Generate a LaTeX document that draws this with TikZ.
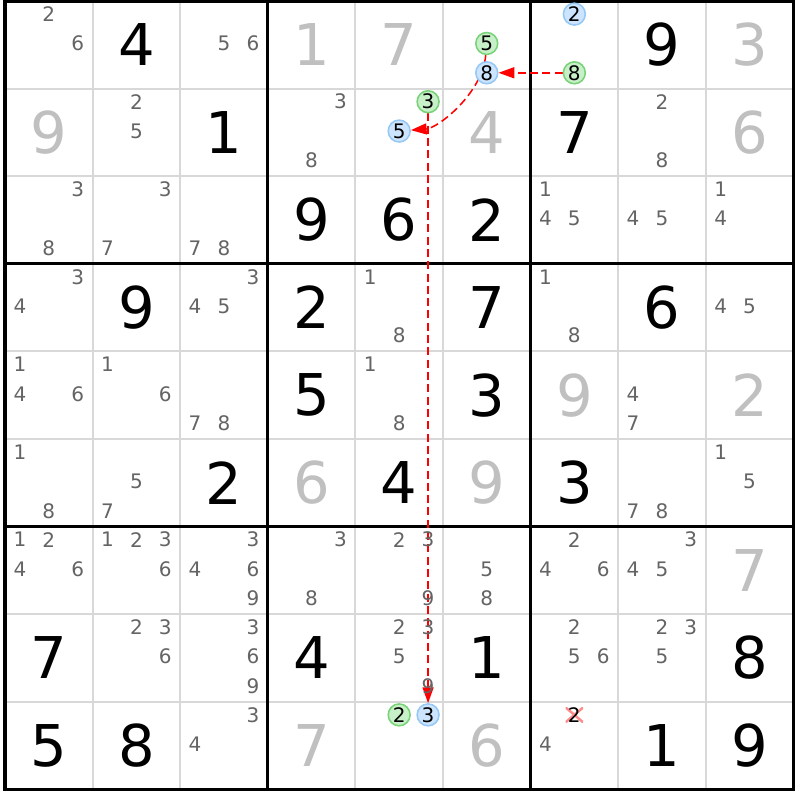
\documentclass[tikz,border=0pt]{standalone}
\usepackage{fontspec}
\setmainfont{DejaVu Sans}
\usetikzlibrary{arrows.meta}

\definecolor{solvedcol}{RGB}{192,192,192}
\definecolor{candcol}{RGB}{100,100,100}
\definecolor{thingrid}{RGB}{216,216,216}
\definecolor{onfill}{RGB}{200,240,200}
\definecolor{ondraw}{RGB}{120,210,120}
\definecolor{offfill}{RGB}{205,228,255}
\definecolor{offdraw}{RGB}{150,200,245}
\definecolor{linkred}{RGB}{255,0,0}
\definecolor{elimred}{RGB}{255,140,140}

\pgfdeclarelayer{background}
\pgfdeclarelayer{links}
\pgfsetlayers{background,links,main}

% Cell helpers: column, row, digit
\newcommand{\given}[3]{\node[given] (r#2c#1) at (#1-0.5,#2-0.5) {#3};}
\newcommand{\solved}[3]{\node[solved] (r#2c#1) at (#1-0.5,#2-0.5) {#3};}
\newcommand{\cand}[4][cand]{%
  \pgfmathsetmacro{\candx}{#2-0.83+0.33*mod(#4-1,3)}%
  \pgfmathsetmacro{\candy}{#3-0.85+0.335*int((#4-0.5)/3)}%
  \node[#1] (r#3c#2n#4) at (\candx,\candy) {#4};}
\newcommand{\cands}[3]{\foreach \dg in {#3} {\cand{#1}{#2}{\dg}}}

\begin{document}
\begin{tikzpicture}[x=1cm,y=-1cm,
    given/.style={text=black,inner sep=0pt,font=\fontsize{18.7}{20}\selectfont},
    solved/.style={given,text=solvedcol},
    cand/.style={text=candcol,inner sep=0pt,font=\fontsize{6.5}{7}\selectfont},
    candon/.style={cand,circle,text=black,fill=onfill,draw=ondraw,line width=0.5pt,minimum size=0.25cm},
    candoff/.style={cand,circle,text=black,fill=offfill,draw=offdraw,line width=0.5pt,minimum size=0.25cm},
    elim/.style={cand,text=black,minimum width=0.2cm,minimum height=0.17cm,
        path picture={\draw[elimred,line width=0.8pt]
            (path picture bounding box.north west) -- (path picture bounding box.south east)
            (path picture bounding box.south west) -- (path picture bounding box.north east);}},
    thinline/.style={thingrid,line width=0.65pt},
    boxline/.style={black,line width=1.1pt},
    link/.style={linkred,line width=0.5pt,dash pattern=on 2.6pt off 1.4pt,-{Triangle[length=1.8mm,width=1.25mm]}}
]
\useasboundingbox (-0.057,-0.011) rectangle (9.076,9.122);

% Grid
\begin{pgfonlayer}{background}
\fill[white] (-0.057,-0.011) rectangle (9.076,9.122);
\foreach \i in {1,2,4,5,7,8} {
    \draw[thinline] (\i,0) -- (\i,9);
    \draw[thinline] (0,\i) -- (9,\i);
}
\foreach \i in {3,6} {
    \draw[boxline] (\i,0) -- (\i,9);
    \draw[boxline] (0,\i) -- (9,\i);
}
\draw[boxline] (0,0) rectangle (9,9);
\end{pgfonlayer}

% Row 1
\cands{1}{1}{2,6}
\given{2}{1}{4}
\cands{3}{1}{5,6}
\solved{4}{1}{1}
\solved{5}{1}{7}
\cand[candon]{6}{1}{5}
\cand[candoff]{6}{1}{8}
\cand[candoff]{7}{1}{2}
\cand[candon]{7}{1}{8}
\given{8}{1}{9}
\solved{9}{1}{3}

% Row 2
\solved{1}{2}{9}
\cands{2}{2}{2,5}
\given{3}{2}{1}
\cands{4}{2}{3,8}
\cand[candon]{5}{2}{3}
\cand[candoff]{5}{2}{5}
\solved{6}{2}{4}
\given{7}{2}{7}
\cands{8}{2}{2,8}
\solved{9}{2}{6}

% Row 3
\cands{1}{3}{3,8}
\cands{2}{3}{3,7}
\cands{3}{3}{7,8}
\given{4}{3}{9}
\given{5}{3}{6}
\given{6}{3}{2}
\cands{7}{3}{1,4,5}
\cands{8}{3}{4,5}
\cands{9}{3}{1,4}

% Row 4
\cands{1}{4}{3,4}
\given{2}{4}{9}
\cands{3}{4}{3,4,5}
\given{4}{4}{2}
\cands{5}{4}{1,8}
\given{6}{4}{7}
\cands{7}{4}{1,8}
\given{8}{4}{6}
\cands{9}{4}{4,5}

% Row 5
\cands{1}{5}{1,4,6}
\cands{2}{5}{1,6}
\cands{3}{5}{7,8}
\given{4}{5}{5}
\cands{5}{5}{1,8}
\given{6}{5}{3}
\solved{7}{5}{9}
\cands{8}{5}{4,7}
\solved{9}{5}{2}

% Row 6
\cands{1}{6}{1,8}
\cands{2}{6}{5,7}
\given{3}{6}{2}
\solved{4}{6}{6}
\given{5}{6}{4}
\solved{6}{6}{9}
\given{7}{6}{3}
\cands{8}{6}{7,8}
\cands{9}{6}{1,5}

% Row 7
\cands{1}{7}{1,2,4,6}
\cands{2}{7}{1,2,3,6}
\cands{3}{7}{3,4,6,9}
\cands{4}{7}{3,8}
\cands{5}{7}{2,3,9}
\cands{6}{7}{5,8}
\cands{7}{7}{2,4,6}
\cands{8}{7}{3,4,5}
\solved{9}{7}{7}

% Row 8
\given{1}{8}{7}
\cands{2}{8}{2,3,6}
\cands{3}{8}{3,6,9}
\given{4}{8}{4}
\cands{5}{8}{2,3,5,9}
\given{6}{8}{1}
\cands{7}{8}{2,5,6}
\cands{8}{8}{2,3,5}
\given{9}{8}{8}

% Row 9
\given{1}{9}{5}
\given{2}{9}{8}
\cands{3}{9}{3,4}
\solved{4}{9}{7}
\cand[candon]{5}{9}{2}
\cand[candoff]{5}{9}{3}
\solved{6}{9}{6}
\cand[elim]{7}{9}{2}
\cand{7}{9}{4}
\given{8}{9}{1}
\given{9}{9}{9}

% Links
\begin{pgfonlayer}{links}
\draw[link] (r1c7n8) -- (r1c6n8);
\draw[link] (r1c6n5) .. controls (5.45,1.05) and (4.95,1.45) .. (r2c5n5);
\draw[link] (r2c5n3) -- (r9c5n3);
\end{pgfonlayer}
\end{tikzpicture}
\end{document}
